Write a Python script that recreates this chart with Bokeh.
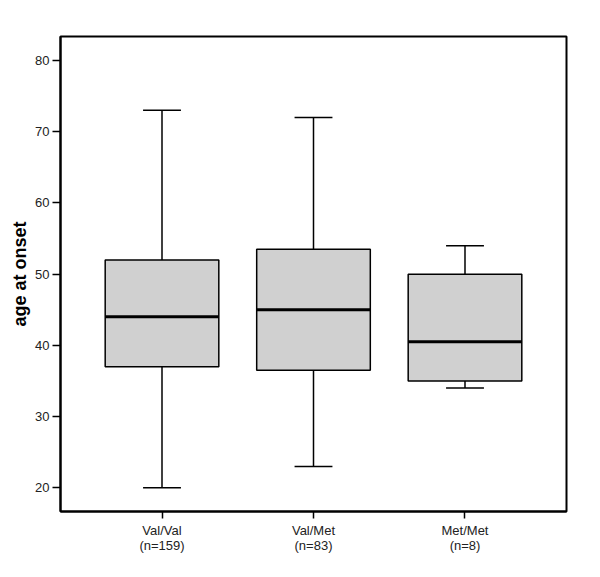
from bokeh.plotting import figure
from bokeh.models import Range1d, FixedTicker, ColumnDataSource
from bokeh.transform import dodge
from bokeh.embed import file_html
from bokeh.resources import INLINE

genotypes = ["Val/Val", "Val/Met", "Met/Met"]
group_sizes = ["(n=159)", "(n=83)", "(n=8)"]
upper = [73, 72, 54]
q3 = [52, 53.5, 50]
median = [44, 45, 40.5]
q1 = [37, 36.5, 35]
lower = [20, 23, 34]
y_ticks = [20, 30, 40, 50, 60, 70, 80]

pos = list(range(1, len(genotypes) + 1))
src = ColumnDataSource(dict(x=pos, upper=upper, q3=q3, median=median, q1=q1, lower=lower))

p = figure(width=592, height=561, output_backend="svg", toolbar_location=None,
           x_range=Range1d(0.33, len(genotypes) + 0.67),
           y_range=Range1d(16.67, 83.37),
           min_border_left=60, min_border_right=26, min_border_top=36, min_border_bottom=50)
p.frame_width = 506
p.frame_height = 475

box_w = 0.75
cap_w = 0.25
# whiskers
p.segment(x0="x", y0="lower", x1="x", y1="upper", source=src, line_color="black", line_width=1.5)
p.segment(x0=dodge("x", -cap_w / 2), y0="upper", x1=dodge("x", cap_w / 2), y1="upper",
          source=src, line_color="black", line_width=1.5)
p.segment(x0=dodge("x", -cap_w / 2), y0="lower", x1=dodge("x", cap_w / 2), y1="lower",
          source=src, line_color="black", line_width=1.5)
# boxes
p.vbar(x="x", top="q3", bottom="q1", width=box_w, source=src, fill_color="#d0d0d0",
       line_color="black", line_width=1.5)
# median
p.segment(x0=dodge("x", -box_w / 2), y0="median", x1=dodge("x", box_w / 2), y1="median",
          source=src, line_color="black", line_width=3)

p.xgrid.visible = False
p.ygrid.visible = False
p.outline_line_color = "black"
p.outline_line_width = 2
p.outline_line_alpha = 1

p.yaxis.ticker = FixedTicker(ticks=y_ticks)
p.yaxis.minor_tick_line_color = None
p.yaxis.major_tick_out = 8
p.yaxis.major_tick_in = 0
p.yaxis.major_label_standoff = 3
p.yaxis.axis_label = "age at onset"
p.yaxis.axis_label_text_font = "Liberation Sans"
p.yaxis.axis_label_text_font_style = "bold"
p.yaxis.axis_label_text_font_size = "18px"
p.yaxis.axis_label_text_color = "black"
p.yaxis.axis_label_standoff = 2

p.xaxis.ticker = FixedTicker(ticks=pos)
p.xaxis.minor_tick_line_color = None
p.xaxis.major_label_overrides = {x: f"{g}\n{n}" for x, g, n in zip(pos, genotypes, group_sizes)}
p.xaxis.major_tick_out = 7
p.xaxis.major_tick_in = 0
p.xaxis.major_label_standoff = 4
p.xaxis.major_label_text_line_height = 1.05

for ax in (p.xaxis, p.yaxis):
    ax.axis_line_width = 2
    ax.axis_line_color = "black"
    ax.major_tick_line_width = 1.5
    ax.major_tick_line_color = "black"
    ax.major_label_text_font = "Liberation Sans"
    ax.major_label_text_font_size = "13px"
    ax.major_label_text_color = "#222222"

open("out.html", "w").write(file_html(p, INLINE))
